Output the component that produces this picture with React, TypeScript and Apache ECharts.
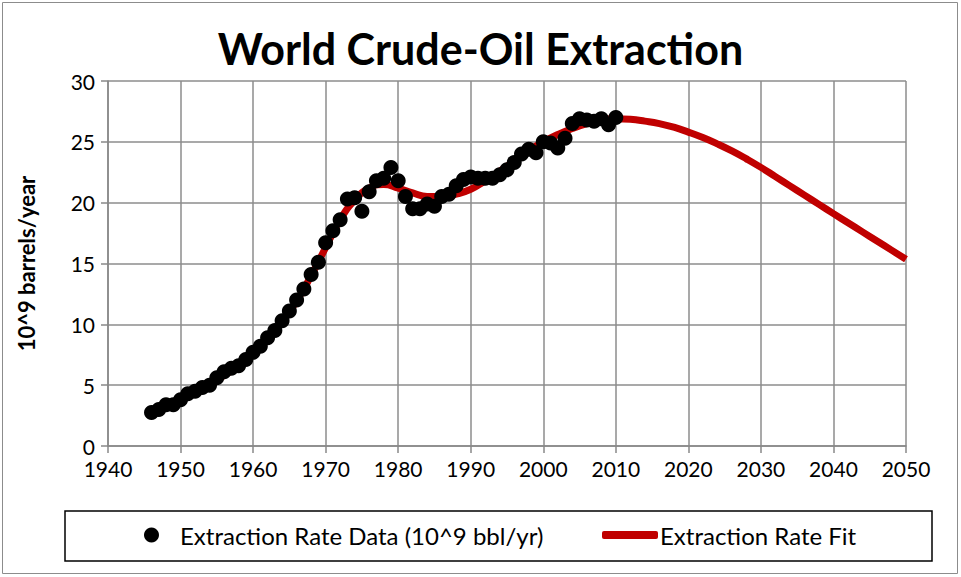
import React, { useEffect, useRef } from "react";
import * as echarts from "echarts";

const dataYears = [
  1946, 1947, 1948, 1949, 1950, 1951, 1952, 1953, 1954, 1955, 1956, 1957, 1958, 1959,
  1960, 1961, 1962, 1963, 1964, 1965, 1966, 1967, 1968, 1969, 1970, 1971, 1972, 1973,
  1974, 1975, 1976, 1977, 1978, 1979, 1980, 1981, 1982, 1983, 1984, 1985, 1986, 1987,
  1988, 1989, 1990, 1991, 1992, 1993, 1994, 1995, 1996, 1997, 1998, 1999, 2000, 2001,
  2002, 2003, 2004, 2005, 2006, 2007, 2008, 2009, 2010,
];
const dataValues = [
  2.75, 3.0, 3.4, 3.4, 3.8, 4.3, 4.5, 4.8, 5.0, 5.6, 6.1, 6.4, 6.6, 7.1,
  7.7, 8.2, 8.9, 9.5, 10.3, 11.1, 12.0, 12.9, 14.1, 15.1, 16.7, 17.7, 18.6, 20.3,
  20.4, 19.3, 20.9, 21.8, 22.0, 22.9, 21.8, 20.5, 19.5, 19.5, 19.9, 19.7, 20.5, 20.7,
  21.4, 21.9, 22.1, 22.0, 22.0, 22.0, 22.3, 22.7, 23.3, 24.0, 24.4, 24.1, 25.0, 24.9,
  24.5, 25.3, 26.5, 26.9, 26.8, 26.7, 26.9, 26.4, 27.0,
];

const fitYears = [
  1946, 1948, 1950, 1952, 1954, 1956, 1958, 1960, 1962, 1964, 1966, 1968, 1970, 1972,
  1974, 1976, 1978, 1980, 1982, 1984, 1986, 1988, 1990, 1992, 1994, 1996, 1998, 2000,
  2002, 2004, 2006, 2008, 2010, 2012, 2014, 2016, 2018, 2020, 2022, 2024, 2026, 2028,
  2030, 2032, 2034, 2036, 2038, 2040, 2042, 2044, 2046, 2048, 2050,
];
const fitValues = [
  2.9, 3.3, 3.8, 4.4, 5.0, 5.8, 6.6, 7.6, 8.8, 10.2, 11.9, 14.0, 16.3, 18.6,
  20.2, 21.2, 21.5, 21.2, 20.8, 20.5, 20.5, 20.7, 21.1, 21.8, 22.6, 23.4, 24.3, 25.0,
  25.6, 26.1, 26.5, 26.8, 26.9, 26.85, 26.7, 26.5, 26.2, 25.8, 25.35, 24.83, 24.25, 23.6,
  22.9, 22.14, 21.38, 20.62, 19.86, 19.1, 18.35, 17.6, 16.85, 16.1, 15.35,
];

const xTicks = { min: 1940, max: 2050, interval: 10 };
const yTicks = { min: 0, max: 30, interval: 5 };

const DATA_NAME = "Extraction Rate Data (10^9 bbl/yr)";
const FIT_NAME = "Extraction Rate Fit";
const FONT = "Lato, 'Open Sans', sans-serif";

export default function App() {
  const ref = useRef<HTMLDivElement>(null);
  useEffect(() => {
    document.body.style.margin = "0";
    const chart = echarts.init(ref.current!, undefined, { renderer: "svg" });
    chart.setOption({
      animation: false,
      backgroundColor: "#ffffff",
      textStyle: { fontFamily: FONT },
      title: {
        text: "World Crude-Oil Extraction",
        left: "center",
        top: 22,
        textStyle: { fontFamily: FONT, fontSize: 43, fontWeight: "bold", color: "#000" },
      },
      grid: { left: 108, right: 55, top: 81, bottom: 131, containLabel: false },
      xAxis: {
        type: "value",
        min: xTicks.min,
        max: xTicks.max,
        interval: xTicks.interval,
        axisLine: { show: true, lineStyle: { color: "#888", width: 1.5 } },
        axisTick: { show: true, length: 7, lineStyle: { color: "#888", width: 1.5 } },
        axisLabel: {
          fontFamily: FONT,
          fontSize: 21,
          color: "#000",
          margin: 12,
          formatter: (v: number) => String(v),
        },
        splitLine: { show: true, lineStyle: { color: "#8c8c8c", width: 1.5 } },
      },
      yAxis: {
        type: "value",
        min: yTicks.min,
        max: yTicks.max,
        interval: yTicks.interval,
        name: "10^9 barrels/year",
        nameLocation: "middle",
        nameRotate: 90,
        nameGap: 71,
        nameTextStyle: { fontFamily: FONT, fontSize: 22, fontWeight: "bold", color: "#000" },
        axisLine: { show: true, lineStyle: { color: "#888", width: 1.5 } },
        axisTick: { show: true, length: 7, lineStyle: { color: "#888", width: 1.5 } },
        axisLabel: { fontFamily: FONT, fontSize: 21, color: "#000", margin: 13 },
        splitLine: { show: true, lineStyle: { color: "#8c8c8c", width: 1.5 } },
      },
      legend: [
        {
          data: [{ name: DATA_NAME, icon: "circle" }],
          left: 139,
          top: 518,
          itemWidth: 15,
          itemHeight: 15,
          textStyle: { fontFamily: FONT, fontSize: 24, color: "#000", padding: [0, 0, 0, 16] },
        },
        {
          data: [{ name: FIT_NAME, icon: "roundRect" }],
          left: 597,
          top: 518,
          itemWidth: 56,
          itemHeight: 8,
          textStyle: { fontFamily: FONT, fontSize: 24, color: "#000", padding: [0, 0, 0, -3] },
        },
      ],
      graphic: [
        {
          type: "rect",
          shape: { x: 2.5, y: 2.5, width: 955, height: 571 },
          style: { fill: "none", stroke: "#8c8c8c", lineWidth: 1 },
          silent: true,
        },
        {
          type: "rect",
          shape: { x: 65, y: 511, width: 867, height: 50 },
          style: { fill: "none", stroke: "#000", lineWidth: 1.5 },
          silent: true,
        },
      ],
      series: [
        {
          name: FIT_NAME,
          type: "line",
          smooth: true,
          showSymbol: false,
          symbol: "none",
          z: 2,
          lineStyle: { color: "#c00000", width: 7 },
          itemStyle: { color: "#c00000" },
          data: fitYears.map((y, i) => [y, fitValues[i]]),
        },
        {
          name: DATA_NAME,
          type: "scatter",
          symbol: "circle",
          symbolSize: 15,
          z: 3,
          itemStyle: { color: "#000", opacity: 1 },
          data: dataYears.map((y, i) => [y, dataValues[i]]),
        },
      ],
    });
    return () => chart.dispose();
  }, []);
  return <div ref={ref} style={{ width: 961, height: 577 }} />;
}
